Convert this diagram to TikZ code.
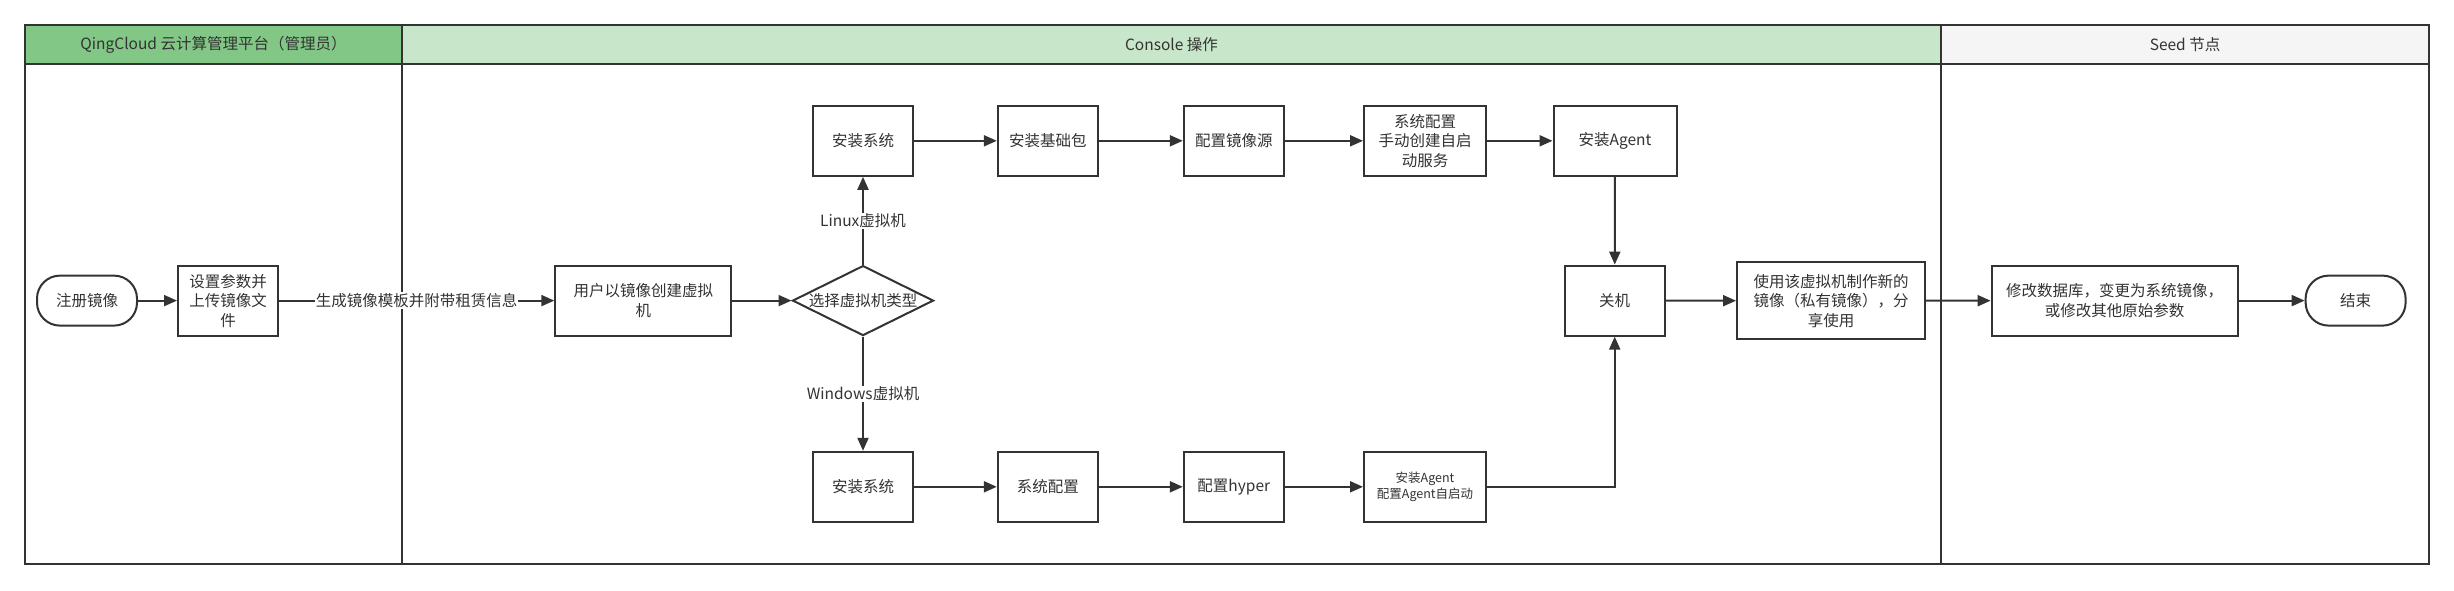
\documentclass[tikz,border=0pt]{standalone}
\usepackage{fontspec}
\setmainfont{Noto Sans CJK SC}
\usetikzlibrary{arrows.meta, shapes.geometric}
\definecolor{ink}{HTML}{333333}
\definecolor{laneA}{HTML}{82C785}
\definecolor{laneB}{HTML}{C8E6C9}
\definecolor{laneC}{HTML}{F5F5F5}
\tikzset{
  every node/.style = {text=ink, font=\fontsize{15.5}{19.5}\selectfont},
  imlane/.style  = {draw=ink, line width=2.4pt},
  imhead/.style  = {font=\fontsize{15.5}{19.5}\selectfont},
  imbox/.style   = {draw=ink, line width=2pt, fill=white, align=center, inner sep=2pt,
                    minimum width=100pt, minimum height=70pt},
  imterm/.style  = {imbox, rounded corners=23pt, minimum height=50pt},
  imdec/.style   = {draw=ink, line width=2pt, fill=white, diamond, aspect=2,
                    inner sep=0pt, minimum width=141pt, minimum height=70pt},
  imsmall/.style = {imbox, font=\fontsize{12.5}{16}\selectfont},
  imgo/.style    = {-{Triangle[length=13pt,width=11pt]}, draw=ink, line width=2pt},
  imlab/.style   = {fill=white, inner sep=1pt},
}

\begin{document}
\begin{tikzpicture}[x=1pt, y=-1pt]
\useasboundingbox (0,0) rectangle (2454,590);

\fill[laneA] (25,25) rectangle (402,64);
\fill[laneB] (402,25) rectangle (1941,64);
\fill[laneC] (1941,25) rectangle (2429,64);
\draw[imlane] (25,25) rectangle (2429,564);
\draw[imlane] (25,64) -- (2429,64);
\draw[imlane] (402,25) -- (402,564);
\draw[imlane] (1941,25) -- (1941,564);

\node[imhead] (h1) at (213.5,44.5) {QingCloud 云计算管理平台（管理员）};
\node[imhead] (h2) at (1171.5,44.5) {Console 操作};
\node[imhead] (h3) at (2185,44.5) {Seed 节点};

\node[imterm] (reg)  at (87,300.6)   {注册镜像};
\node[imbox]  (up)   at (228,300.6)  {设置参数并\\上传镜像文\\件};
\node[imbox, minimum width=176pt] (vm) at (643.3,300.6) {用户以镜像创建虚拟\\机};
\node[imdec]  (pick) at (863,300.6)  {选择虚拟机类型};

\node[imbox] (linst)  at (863,140.8)    {安装系统};
\node[imbox] (lpkg)   at (1047.8,140.8) {安装基础包};
\node[imbox] (lsrc)   at (1233.8,140.8) {配置镜像源};
\node[imbox, minimum width=122pt] (lcfg)   at (1425,140.8) {系统配置\\手动创建自启\\动服务};
\node[imbox, minimum width=123pt] (lagent) at (1615,140.8) {安装Agent};

\node[imbox] (winst)  at (863,486.8)    {安装系统};
\node[imbox] (wcfg)   at (1047.8,486.8) {系统配置};
\node[imbox] (whyp)   at (1233.8,486.8) {配置hyper};
\node[imsmall, minimum width=122pt] (wagent) at (1425,486.8) {安装Agent\\配置Agent自启动};

\node[imbox] (off)  at (1614.7,300.6) {关机};
\node[imbox, minimum width=188pt, minimum height=77pt] (mk) at (1831,300.8)
  {使用该虚拟机制作新的\\镜像（私有镜像），分\\享使用};
\node[imbox, minimum width=246pt] (db) at (2114.6,300.6)
  {修改数据库，变更为系统镜像，\\或修改其他原始参数};
\node[imterm] (fin) at (2355.6,300.6) {结束};

\draw[imgo] (reg) -- (up);
\draw[imgo] (up) -- node[imlab] {生成镜像模板并附带租赁信息} (vm);
\draw[imgo] (vm) -- (pick);
\draw[imgo] (pick) -- node[imlab] {Linux虚拟机} (linst);
\draw[imgo] (pick) -- node[imlab] {Windows虚拟机} (winst);
\draw[imgo] (linst) -- (lpkg);
\draw[imgo] (lpkg) -- (lsrc);
\draw[imgo] (lsrc) -- (lcfg);
\draw[imgo] (lcfg) -- (lagent);
\draw[imgo] (lagent) -- (off);
\draw[imgo] (winst) -- (wcfg);
\draw[imgo] (wcfg) -- (whyp);
\draw[imgo] (whyp) -- (wagent);
\draw[imgo] (wagent) -| (off);
\draw[imgo] (off) -- (mk);
\draw[imgo] (mk) -- (db);
\draw[imgo] (db) -- (fin);
\end{tikzpicture}
\end{document}
